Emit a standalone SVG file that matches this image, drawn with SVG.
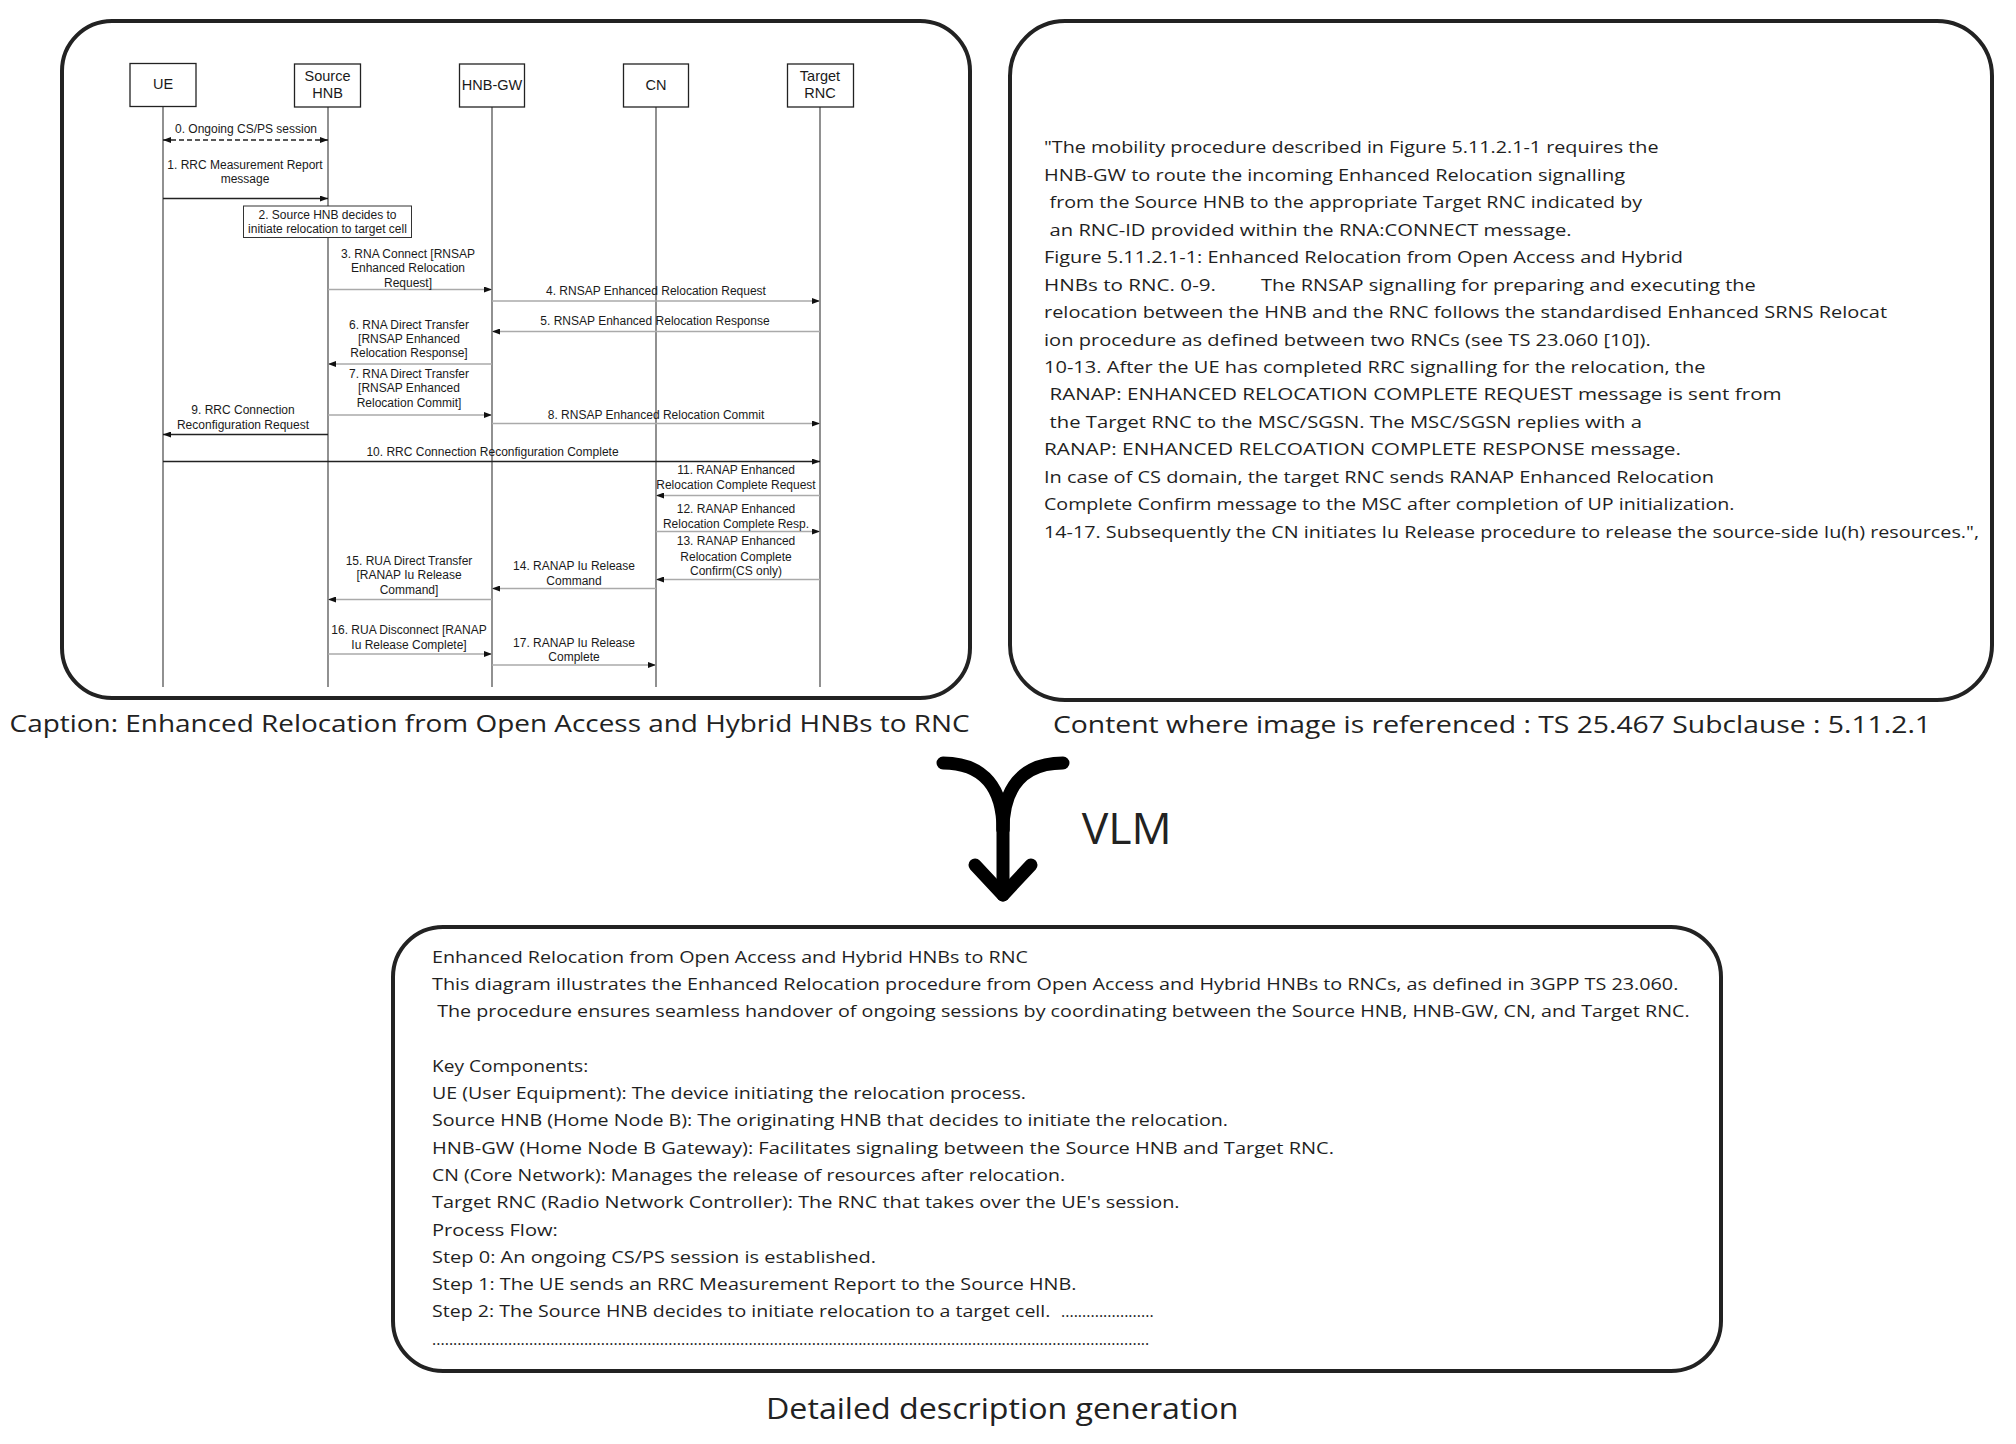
<svg xmlns="http://www.w3.org/2000/svg" width="2016" height="1444" viewBox="0 0 2016 1444">
<defs>
<marker id="ah" viewBox="0 0 8 6" refX="8" refY="3" markerWidth="8" markerHeight="6" markerUnits="userSpaceOnUse" orient="auto-start-reverse">
<path d="M0,0 L8,3 L0,6 z" fill="#111"/>
</marker>
<style>
.panel{fill:#fff;stroke:#222;stroke-width:4}
.actor{fill:#fff;stroke:#222;stroke-width:1.3}
.life{stroke:#555;stroke-width:1.3;fill:none}
.atxt{font-family:"Liberation Sans",Arial,sans-serif;font-size:14.5px;fill:#1a1a1a;text-anchor:middle}
.mtxt{font-family:"Liberation Sans",Arial,sans-serif;font-size:12px;fill:#1a1a1a;text-anchor:middle}
.md{stroke:#222;stroke-width:1.3;fill:none;marker-end:url(#ah)}
.mg{stroke:#aaa;stroke-width:1.3;fill:none;marker-end:url(#ah)}
.body{font-family:"Open Sans","Noto Sans",sans-serif;font-size:16.5px;fill:#1f1f1f}
.cap{font-family:"Open Sans","Noto Sans",sans-serif;font-size:24px;fill:#222}
.big{stroke:#000;stroke-width:13;fill:none;stroke-linecap:round;stroke-linejoin:round}
</style>
</defs>
<rect width="2016" height="1444" fill="#fff"/>

<!-- Left panel -->
<g id="panel-left">
<rect class="panel" x="62" y="21" width="908" height="677" rx="50"/>
</g>

<!-- Lifelines / actors -->
<g id="ue">
<line class="life" x1="163" y1="107" x2="163" y2="687"/>
<rect class="actor" x="130" y="63.5" width="66" height="43"/>
<text class="atxt" x="163" y="89">UE</text>
</g>
<g id="source-hnb">
<line class="life" x1="328" y1="107" x2="328" y2="687"/>
<rect class="actor" x="294.5" y="64" width="66" height="43"/>
<text class="atxt" x="327.5" y="81">Source</text>
<text class="atxt" x="327.5" y="97.7">HNB</text>
</g>
<g id="hnb-gw">
<line class="life" x1="492" y1="107" x2="492" y2="687"/>
<rect class="actor" x="459.5" y="64" width="65" height="43"/>
<text class="atxt" x="492" y="90">HNB-GW</text>
</g>
<g id="cn">
<line class="life" x1="656" y1="107" x2="656" y2="687"/>
<rect class="actor" x="623.5" y="64" width="65" height="43"/>
<text class="atxt" x="656" y="90">CN</text>
</g>
<g id="target-rnc">
<line class="life" x1="820" y1="107" x2="820" y2="687"/>
<rect class="actor" x="787.5" y="64" width="66" height="43"/>
<text class="atxt" x="820" y="81">Target</text>
<text class="atxt" x="820" y="97.7">RNC</text>
</g>

<g id="connectors">
<line x1="163" y1="140" x2="328" y2="140" stroke="#222" stroke-width="1.3" stroke-dasharray="5,3" marker-start="url(#ah)" marker-end="url(#ah)"/>
<line class="md" x1="163" y1="198.5" x2="328" y2="198.5"/>
<line class="mg" x1="328" y1="289.5" x2="492" y2="289.5"/>
<line class="mg" x1="492" y1="301" x2="820" y2="301"/>
<line class="mg" x1="820" y1="331.5" x2="492" y2="331.5"/>
<line class="mg" x1="492" y1="364" x2="328" y2="364"/>
<line class="mg" x1="328" y1="415" x2="492" y2="415"/>
<line class="mg" x1="492" y1="423.5" x2="820" y2="423.5"/>
<line class="md" x1="328" y1="434.5" x2="163" y2="434.5"/>
<line class="md" x1="163" y1="461.5" x2="820" y2="461.5"/>
<line class="mg" x1="820" y1="495.5" x2="656" y2="495.5"/>
<line class="mg" x1="656" y1="531.5" x2="820" y2="531.5"/>
<line class="mg" x1="820" y1="579.5" x2="656" y2="579.5"/>
<line class="mg" x1="656" y1="588.5" x2="492" y2="588.5"/>
<line class="mg" x1="492" y1="599.5" x2="328" y2="599.5"/>
<line class="mg" x1="328" y1="654" x2="492" y2="654"/>
<line class="mg" x1="492" y1="665" x2="656" y2="665"/>
<path class="big" d="M943 763 C985 763 1003 790 1003 830"/>
<path class="big" d="M1063 763 C1021 763 1003 790 1003 830"/>
<path class="big" d="M1003 820 L1003 895"/>
<path class="big" d="M975 865 L1003 895 L1031 865"/>
</g>

<g id="note-2">
<rect x="243.5" y="206" width="168" height="31.5" fill="#fff" stroke="#333" stroke-width="1"/>
<text class="mtxt" x="327.5" y="218.5">2. Source HNB decides to</text>
<text class="mtxt" x="327.5" y="232.7">initiate relocation to target cell</text>
</g>

<g id="message-labels">
<text class="mtxt" x="246" y="132.5">0. Ongoing CS/PS session</text>
<text class="mtxt" x="245" y="169">1. RRC Measurement Report</text>
<text class="mtxt" x="245" y="183">message</text>
<text class="mtxt" x="408" y="257.7">3. RNA Connect [RNSAP</text>
<text class="mtxt" x="408" y="272.3">Enhanced Relocation</text>
<text class="mtxt" x="408" y="286.7">Request]</text>
<text class="mtxt" x="656" y="295">4. RNSAP Enhanced Relocation Request</text>
<text class="mtxt" x="655" y="325">5. RNSAP Enhanced Relocation Response</text>
<text class="mtxt" x="409" y="328.5">6. RNA Direct Transfer</text>
<text class="mtxt" x="409" y="342.7">[RNSAP Enhanced</text>
<text class="mtxt" x="409" y="357">Relocation Response]</text>
<text class="mtxt" x="409" y="377.5">7. RNA Direct Transfer</text>
<text class="mtxt" x="409" y="391.7">[RNSAP Enhanced</text>
<text class="mtxt" x="409" y="406.5">Relocation Commit]</text>
<text class="mtxt" x="656" y="418.7">8. RNSAP Enhanced Relocation Commit</text>
<text class="mtxt" x="243" y="414">9. RRC Connection</text>
<text class="mtxt" x="243" y="428.7">Reconfiguration Request</text>
<text class="mtxt" x="492.5" y="455.7">10. RRC Connection Reconfiguration Complete</text>
<text class="mtxt" x="736" y="474">11. RANAP Enhanced</text>
<text class="mtxt" x="736" y="488.7">Relocation Complete Request</text>
<text class="mtxt" x="736" y="513.3">12. RANAP Enhanced</text>
<text class="mtxt" x="736" y="527.7">Relocation Complete Resp.</text>
<text class="mtxt" x="736" y="545.3">13. RANAP Enhanced</text>
<text class="mtxt" x="736" y="560.7">Relocation Complete</text>
<text class="mtxt" x="736" y="575">Confirm(CS only)</text>
<text class="mtxt" x="574" y="570">14. RANAP Iu Release</text>
<text class="mtxt" x="574" y="585">Command</text>
<text class="mtxt" x="409" y="565">15. RUA Direct Transfer</text>
<text class="mtxt" x="409" y="579.3">[RANAP Iu Release</text>
<text class="mtxt" x="409" y="594">Command]</text>
<text class="mtxt" x="409" y="634.3">16. RUA Disconnect [RANAP</text>
<text class="mtxt" x="409" y="648.7">Iu Release Complete]</text>
<text class="mtxt" x="574" y="646.7">17. RANAP Iu Release</text>
<text class="mtxt" x="574" y="661">Complete</text>
</g>

<text class="cap" x="9.6" y="731.7" textLength="960" lengthAdjust="spacingAndGlyphs">Caption: Enhanced Relocation from Open Access and Hybrid HNBs to RNC</text>

<!-- Right panel -->
<g id="panel-right">
<rect class="panel" x="1010" y="21" width="982" height="679" rx="55"/>
<text class="body" x="1044" y="153.3" textLength="614.5" lengthAdjust="spacingAndGlyphs">"The mobility procedure described in Figure 5.11.2.1-1 requires the</text>
<text class="body" x="1044" y="180.8" textLength="581" lengthAdjust="spacingAndGlyphs">HNB-GW to route the incoming Enhanced Relocation signalling</text>
<text class="body" x="1049.6" y="208.2" textLength="592.4" lengthAdjust="spacingAndGlyphs">from the Source HNB to the appropriate Target RNC indicated by</text>
<text class="body" x="1049.6" y="235.7" textLength="522" lengthAdjust="spacingAndGlyphs">an RNC-ID provided within the RNA:CONNECT message.</text>
<text class="body" x="1044" y="263.1" textLength="639" lengthAdjust="spacingAndGlyphs">Figure 5.11.2.1-1: Enhanced Relocation from Open Access and Hybrid</text>
<text class="body" x="1044" y="290.6" textLength="172" lengthAdjust="spacingAndGlyphs">HNBs to RNC. 0-9.</text>
<text class="body" x="1261" y="290.6" textLength="494.8" lengthAdjust="spacingAndGlyphs">The RNSAP signalling for preparing and executing the</text>
<text class="body" x="1044" y="318" textLength="843" lengthAdjust="spacingAndGlyphs">relocation between the HNB and the RNC follows the standardised Enhanced SRNS Relocat</text>
<text class="body" x="1044" y="345.5" textLength="606.8" lengthAdjust="spacingAndGlyphs">ion procedure as defined between two RNCs (see TS 23.060 [10]).</text>
<text class="body" x="1044" y="372.9" textLength="661.5" lengthAdjust="spacingAndGlyphs">10-13. After the UE has completed RRC signalling for the relocation, the</text>
<text class="body" x="1049.6" y="400.4" textLength="732" lengthAdjust="spacingAndGlyphs">RANAP: ENHANCED RELOCATION COMPLETE REQUEST message is sent from</text>
<text class="body" x="1049.6" y="427.8" textLength="592.4" lengthAdjust="spacingAndGlyphs">the Target RNC to the MSC/SGSN. The MSC/SGSN replies with a</text>
<text class="body" x="1044" y="455.3" textLength="637" lengthAdjust="spacingAndGlyphs">RANAP: ENHANCED RELCOATION COMPLETE RESPONSE message.</text>
<text class="body" x="1044" y="482.7" textLength="670" lengthAdjust="spacingAndGlyphs">In case of CS domain, the target RNC sends RANAP Enhanced Relocation</text>
<text class="body" x="1044" y="510.2" textLength="690.5" lengthAdjust="spacingAndGlyphs">Complete Confirm message to the MSC after completion of UP initialization.</text>
<text class="body" x="1044" y="537.6" textLength="935" lengthAdjust="spacingAndGlyphs">14-17. Subsequently the CN initiates Iu Release procedure to release the source-side Iu(h) resources.",</text>
</g>

<text class="cap" x="1053" y="733" textLength="878" lengthAdjust="spacingAndGlyphs">Content where image is referenced : TS 25.467 Subclause : 5.11.2.1</text>

<!-- VLM label -->
<text x="1081.7" y="844" font-family="'Open Sans','Noto Sans',sans-serif" font-size="44" fill="#222" textLength="90" lengthAdjust="spacingAndGlyphs">VLM</text>

<!-- Bottom panel -->
<g id="panel-bottom">
<rect class="panel" x="393" y="927" width="1328" height="444" rx="50"/>
<text class="body" x="432" y="962.7" textLength="596" lengthAdjust="spacingAndGlyphs">Enhanced Relocation from Open Access and Hybrid HNBs to RNC</text>
<text class="body" x="432" y="990" textLength="1246.4" lengthAdjust="spacingAndGlyphs">This diagram illustrates the Enhanced Relocation procedure from Open Access and Hybrid HNBs to RNCs, as defined in 3GPP TS 23.060.</text>
<text class="body" x="437.2" y="1017.3" textLength="1252.4" lengthAdjust="spacingAndGlyphs">The procedure ensures seamless handover of ongoing sessions by coordinating between the Source HNB, HNB-GW, CN, and Target RNC.</text>
<text class="body" x="432" y="1071.8" textLength="156.2" lengthAdjust="spacingAndGlyphs">Key Components:</text>
<text class="body" x="432" y="1099" textLength="594" lengthAdjust="spacingAndGlyphs">UE (User Equipment): The device initiating the relocation process.</text>
<text class="body" x="432" y="1126.3" textLength="796" lengthAdjust="spacingAndGlyphs">Source HNB (Home Node B): The originating HNB that decides to initiate the relocation.</text>
<text class="body" x="432" y="1153.6" textLength="902" lengthAdjust="spacingAndGlyphs">HNB-GW (Home Node B Gateway): Facilitates signaling between the Source HNB and Target RNC.</text>
<text class="body" x="432" y="1180.9" textLength="633" lengthAdjust="spacingAndGlyphs">CN (Core Network): Manages the release of resources after relocation.</text>
<text class="body" x="432" y="1208.2" textLength="747.6" lengthAdjust="spacingAndGlyphs">Target RNC (Radio Network Controller): The RNC that takes over the UE's session.</text>
<text class="body" x="432" y="1235.5" textLength="125.8" lengthAdjust="spacingAndGlyphs">Process Flow:</text>
<text class="body" x="432" y="1262.8" textLength="444" lengthAdjust="spacingAndGlyphs">Step 0: An ongoing CS/PS session is established.</text>
<text class="body" x="432" y="1290.1" textLength="644.4" lengthAdjust="spacingAndGlyphs">Step 1: The UE sends an RRC Measurement Report to the Source HNB.</text>
<text class="body" x="432" y="1317.4" textLength="618.4" lengthAdjust="spacingAndGlyphs">Step 2: The Source HNB decides to initiate relocation to a target cell.</text>
<text class="body" x="1061" y="1317.4" textLength="92.6" lengthAdjust="spacingAndGlyphs">......................</text>
<text class="body" x="432" y="1344.7" textLength="717.3" lengthAdjust="spacingAndGlyphs">..........................................................................................................................................................................</text>
</g>

<text class="cap" x="766" y="1419" font-size="30" style="font-size:30px" textLength="472.6" lengthAdjust="spacingAndGlyphs">Detailed description generation</text>
</svg>
